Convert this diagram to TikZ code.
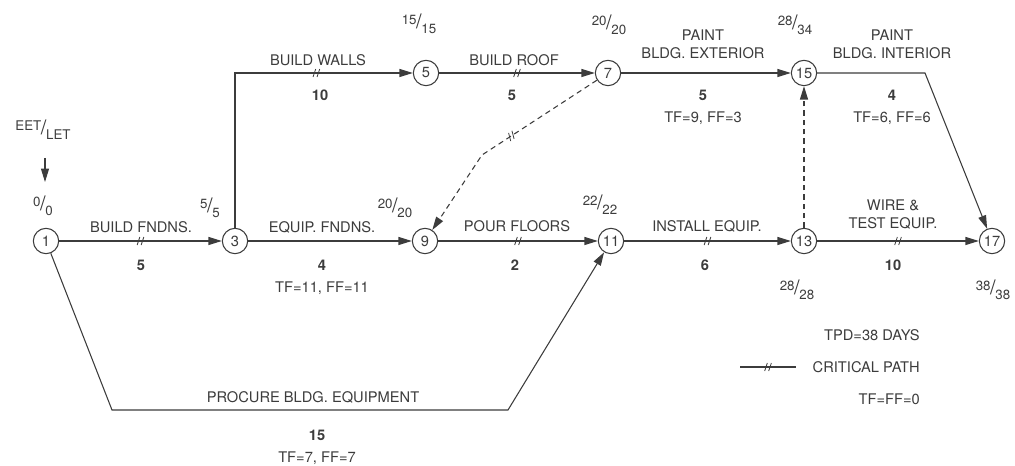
\documentclass[tikz,border=0pt]{standalone}
\usepackage{fontspec}
\setmainfont{TeX Gyre Heros}
\definecolor{netGray}{RGB}{60, 60, 60}
\usetikzlibrary{arrows.meta, positioning, decorations.markings}
\newcommand{\evt}[2]{\raisebox{3.5pt}{\fontsize{10}{11}\selectfont #1}\kern-0.3pt{\fontsize{15}{15}\selectfont /}\kern-0.3pt\raisebox{-3.5pt}{\fontsize{10}{11}\selectfont #2}}

\begin{document}
\begin{tikzpicture}[x=0.75pt, y=-0.75pt,
    event/.style={draw=netGray, circle, line width=0.8pt, minimum size=19pt, inner sep=0pt,
                  font=\fontsize{11}{13}\selectfont, text=netGray},
    lbl/.style={font=\fontsize{11}{13.5}\selectfont, text=netGray, align=center, inner sep=0pt},
    dur/.style={lbl, font=\fontsize{11}{13.5}\selectfont\bfseries},
    time/.style={lbl},
    arr/.style={-{Triangle[length=10pt, width=6pt]}, line width=0.8pt, draw=netGray},
    dummy/.style={arr, dash pattern=on 4pt off 3pt},
    crit/.style={postaction={decorate, decoration={markings,
        mark=at position #1 with {\draw[-, solid, line width=0.6pt, draw=netGray]
          (-2.5pt,-3pt) -- (-0.5pt,3pt) (0.5pt,-3pt) -- (2.5pt,3pt);}}}},
    crit/.default=0.5
  ]
    \useasboundingbox (0,0) rectangle (1015,466);

    % Events
    \node[event] (n1) at (46,241) {1};
    \node[event] (n3) at (235,241) {3};
    \node[event] (n5) at (426,73) {5};
    \node[event] (n7) at (608,73) {7};
    \node[event] (n15) at (804,73) {15};
    \node[event] (n9) at (425,241) {9};
    \node[event] (n11) at (611,241) {11};
    \node[event] (n13) at (804,241) {13};
    \node[event] (n17) at (992,241) {17};

    % Bends
    \coordinate (b15) at (925,73);
    \coordinate (b7) at (482,155);
    \coordinate (b1a) at (112,410);
    \coordinate (b1b) at (508,410);

    % Activities
    \draw[arr, crit] (n1) -- (n3);
    \draw[arr, crit=0.71] (n3) |- (n5);
    \draw[arr, crit] (n5) -- (n7);
    \draw[arr] (n7) -- (n15);
    \draw[arr] (n15) -- (b15) -- (n17);
    \draw[dummy, crit=0.45] (n7) -- (b7) -- (n9);
    \draw[arr] (n3) -- (n9);
    \draw[arr, crit] (n9) -- (n11);
    \draw[arr] (n1) -- (b1a) -- (b1b) -- (n11);
    \draw[arr, crit] (n11) -- (n13);
    \draw[dummy] (n13) -- (n15);
    \draw[arr, crit] (n13) -- (n17);

    % Activity labels
    \node[lbl] (tFndns) at (141,227) {BUILD FNDNS.};
    \node[dur] (dFndns) at (141,265) {5};
    \node[lbl] (tWalls) at (318,60) {BUILD WALLS};
    \node[dur] (dWalls) at (320,95) {10};
    \node[lbl] (tRoof) at (514,60) {BUILD ROOF};
    \node[dur] (dRoof) at (512,95) {5};
    \node[lbl] (tExt) at (703,44) {PAINT\\BLDG. EXTERIOR};
    \node[dur] (dExt) at (703,95) {5};
    \node[lbl] (fExt) at (703,118) {TF=9, FF=3};
    \node[lbl] (tInt) at (892,44) {PAINT\\BLDG. INTERIOR};
    \node[dur] (dInt) at (892,95) {4};
    \node[lbl] (fInt) at (892,118) {TF=6, FF=6};
    \node[lbl] (tEqF) at (322,227) {EQUIP. FNDNS.};
    \node[dur] (dEqF) at (322,265) {4};
    \node[lbl] (fEqF) at (322,288) {TF=11, FF=11};
    \node[lbl] (tFloor) at (517,226) {POUR FLOORS};
    \node[dur] (dFloor) at (515,265) {2};
    \node[lbl] (tInst) at (707,226) {INSTALL EQUIP.};
    \node[dur] (dInst) at (705,265) {6};
    \node[lbl] (tWire) at (893,215) {WIRE \&\\TEST EQUIP.};
    \node[dur] (dWire) at (893,265) {10};
    \node[lbl] (tProc) at (313,397) {PROCURE BLDG. EQUIPMENT};
    \node[dur] (dProc) at (317,435) {15};
    \node[lbl] (fProc) at (317,458) {TF=7, FF=7};

    % Event times
    \node[time] (key) at (43,130) {\evt{EET}{LET}};
    \coordinate (keyTail) at (45,158);
    \coordinate (keyTip) at (45,182);
    \draw[arr] (keyTail) -- (keyTip);
    \node[time] (t1) at (43,206) {\evt{0}{0}};
    \node[time] (t3) at (210,208) {\evt{5}{5}};
    \node[time] (t5) at (419,24) {\evt{15}{15}};
    \node[time] (t7) at (609,25) {\evt{20}{20}};
    \node[time] (t15) at (795,25) {\evt{28}{34}};
    \node[time] (t9) at (395,208) {\evt{20}{20}};
    \node[time] (t11) at (600,205) {\evt{22}{22}};
    \node[time] (t13) at (797,290) {\evt{28}{28}};
    \node[time] (t17) at (993,290) {\evt{38}{38}};

    % Legend
    \node[lbl, anchor=east] (tpd) at (920,335) {TPD=38 DAYS};
    \coordinate (legA) at (740,367);
    \coordinate (legB) at (796,367);
    \draw[crit, line width=0.8pt, draw=netGray] (legA) -- (legB);
    \node[lbl, anchor=east] (critTxt) at (920,367) {CRITICAL PATH};
    \node[lbl, anchor=east] (zeroTxt) at (920,399) {TF=FF=0};
  \end{tikzpicture}
\end{document}
